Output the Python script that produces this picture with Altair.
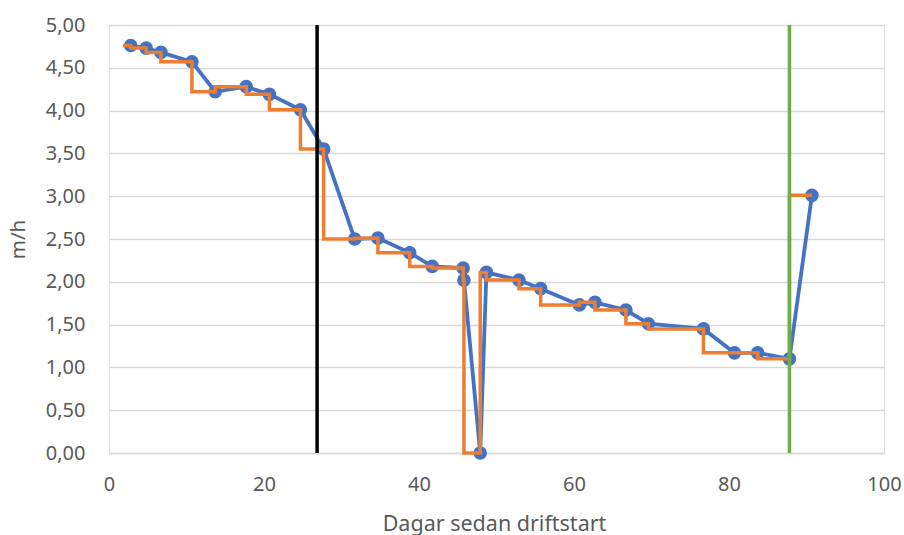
import altair as alt
import pandas as pd

# Measured flow (m/h) per day since start of operation
days = [2.8, 4.8, 6.7, 10.7, 13.7, 17.7, 20.7, 24.7, 27.7, 31.7, 34.7, 38.8,
        41.7, 45.7, 45.8, 47.9, 48.7, 52.9, 55.7, 60.7, 62.7, 66.7, 69.6, 76.7,
        80.7, 83.7, 87.8, 90.7]
flow = [4.76, 4.73, 4.68, 4.57, 4.22, 4.28, 4.19, 4.01, 3.55, 2.50, 2.51, 2.34,
        2.18, 2.16, 2.02, 0.00, 2.11, 2.02, 1.92, 1.73, 1.76, 1.67, 1.51, 1.45,
        1.17, 1.17, 1.10, 3.01]

# Step series (value held until next measurement)
step_days = [1.8] + days
step_flow = [4.76] + flow

# Event markers
event_days = [26.85, 87.8]
event_names = ["A", "B"]
event_colors = ["#000000", "#70AD47"]

FONT = "Noto Sans"
GRAY = "#595959"

meas = pd.DataFrame({"day": days, "flow": flow, "order": range(len(days))})
steps = pd.DataFrame({"day": step_days, "flow": step_flow, "order": range(len(step_days))})
events = pd.DataFrame({"day": event_days, "name": event_names, "color": event_colors})

x_scale = alt.Scale(domain=[0, 100], nice=False, zero=False)
y_scale = alt.Scale(domain=[0, 5], nice=False)

x_axis = alt.Axis(
    values=[0, 20, 40, 60, 80, 100], grid=False, ticks=False,
    domainColor="#D9D9D9", domainWidth=1.5,
    labelFont=FONT, labelFontSize=20, labelColor=GRAY,
    labelPadding=31, labelBaseline="middle", labelFlush=False,
    title="Dagar sedan driftstart", titleFont=FONT, titleFontSize=21.5,
    titleColor=GRAY, titleFontWeight="normal",
    titleX=385, titleY=77, titleBaseline="alphabetic",
)
y_axis = alt.Axis(
    values=[0, 0.5, 1, 1.5, 2, 2.5, 3, 3.5, 4, 4.5, 5],
    labelExpr="replace(format(datum.value, '.2f'), '.', ',')",
    grid=True, gridColor="#D9D9D9", gridWidth=1.5,
    domain=False, ticks=False,
    labelFont=FONT, labelFontSize=20, labelColor=GRAY, labelPadding=24,
    labelFlush=False,
    title="m/h", titleFont=FONT, titleFontSize=20.5, titleColor=GRAY,
    titleFontWeight="normal", titleX=-91, titleY=214,
    titleAlign="center", titleBaseline="middle",
)

blue_line = alt.Chart(meas).mark_line(color="#4472C4", strokeWidth=3.8).encode(
    x=alt.X("day:Q", scale=x_scale, axis=x_axis),
    y=alt.Y("flow:Q", scale=y_scale, axis=y_axis),
    order="order:Q",
)
blue_pts = alt.Chart(meas).mark_circle(color="#4472C4", size=185, opacity=1).encode(
    x=alt.X("day:Q", scale=x_scale),
    y=alt.Y("flow:Q", scale=y_scale),
)
orange = alt.Chart(steps).mark_line(
    color="#ED7D31", strokeWidth=3.5, interpolate="step-before"
).encode(
    x=alt.X("day:Q", scale=x_scale),
    y=alt.Y("flow:Q", scale=y_scale),
    order="order:Q",
)
rules = alt.Chart(events).mark_rule(strokeWidth=3.5).encode(
    x=alt.X("day:Q", scale=x_scale),
    color=alt.Color("color:N", scale=None, legend=None),
)

chart = alt.layer(blue_line, blue_pts, orange, rules).properties(
    width=775, height=428,
    autosize=alt.AutoSizeParams(type="none"),
    padding={"left": 109, "top": 25, "right": 20, "bottom": 82},
).configure_view(stroke=None).configure(background="white")

chart.save("out.html", embed_options={"renderer": "svg", "actions": False})
